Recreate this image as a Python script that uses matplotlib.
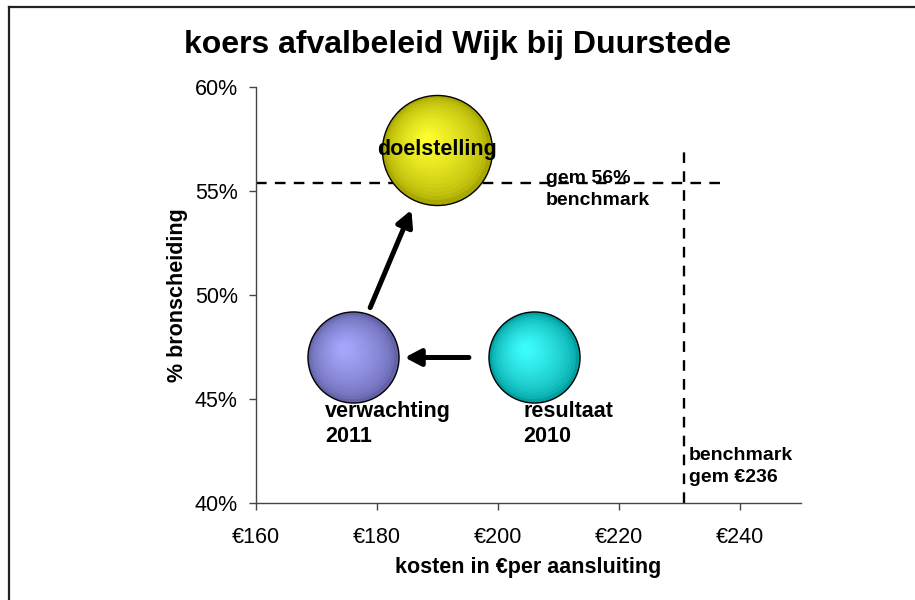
import matplotlib
matplotlib.use("Agg")
import matplotlib.pyplot as plt
import matplotlib.transforms as mtransforms
from matplotlib.lines import Line2D
import numpy as np

plt.rcParams['font.family'] = ['Liberation Sans', 'DejaVu Sans']

# ---- data ----
names = ["doelstelling", "verwachting\n2011", "resultaat\n2010"]
cost = [190, 176, 206]          # € per aansluiting
source_sep = [57.0, 47.0, 47.0]  # % bronscheiding
bubble_size = [1.46, 1.0, 1.0]
colors_dark = ["#a8a800", "#6262a8", "#00a0a0"]
colors_light = ["#ffff30", "#a8a8ff", "#40ffff"]

bench_cost = 230.8
bench_cost_label = "benchmark\ngem €236"
bench_sep = 55.4
bench_sep_label = "gem 56%\nbenchmark"

arrows = [((195.2, 47.0), (184.6, 47.0)), ((178.9, 49.4), (185.7, 54.1))]

xticks = [160, 180, 200, 220, 240]
xtick_labels = ["€160", "€180", "€200", "€220", "€240"]
yticks = [40, 45, 50, 55, 60]
ytick_labels = ["40%", "45%", "50%", "55%", "60%"]

fig = plt.figure(figsize=(9.15, 6.0), dpi=100)
ax = fig.add_axes([0.2795, 0.1617, 0.8751 - 0.2795, 0.8545 - 0.1617])
ax.set_xlim(160, 250)
ax.set_ylim(40, 60)

# figure border (top and left visible)
fig.add_artist(Line2D([8.5 / 915, 8.5 / 915], [0, 1 - 6.5 / 600], transform=fig.transFigure,
                      color="#222222", lw=1.6))
fig.add_artist(Line2D([8.5 / 915, 1], [1 - 6.5 / 600, 1 - 6.5 / 600], transform=fig.transFigure,
                      color="#222222", lw=1.6))

# benchmark lines
ax.plot([160, 237.4], [bench_sep, bench_sep], ls=(0, (4.5, 3.5)), color="black", lw=1.7, zorder=2)
ax.plot([bench_cost, bench_cost], [40, 57.0], ls=(0, (4.5, 3.5)), color="black", lw=1.7, zorder=2)

# bubbles with radial shading
base = 4300
nsteps = 16
for x, y, s, cd, cl in zip(cost, source_sep, bubble_size, colors_dark, colors_light):
    S = base * s
    ax.scatter([x], [y], s=S, color=cd, edgecolor="black", linewidth=1.0, zorder=3)
    d = np.sqrt(S)  # diameter in points
    cdr = np.array(matplotlib.colors.to_rgb(cd))
    clr = np.array(matplotlib.colors.to_rgb(cl))
    for i in range(1, nsteps):
        f = i / nsteps
        dd = d * (1 - f * 0.95)
        off = -0.10 * d * f
        tr = ax.transData + mtransforms.ScaledTranslation(off / 72, -off / 72, fig.dpi_scale_trans)
        c = cdr + (clr - cdr) * f ** 0.6
        ax.scatter([x], [y], s=dd ** 2 * 0.97, color=c, edgecolor="none", zorder=3 + f,
                   transform=tr)

# arrows
for (x0, y0), (x1, y1) in arrows:
    ax.annotate("", xy=(x1, y1), xytext=(x0, y0),
                arrowprops=dict(arrowstyle="-|>,head_length=0.95,head_width=0.5",
                                color="black", lw=3.6, shrinkA=0, shrinkB=0),
                zorder=6)

# labels
ax.text(cost[0], source_sep[0], names[0], ha="center", va="center", fontsize=15.5,
        fontweight="bold", zorder=8)
ax.text(171.4, 43.8, names[1], ha="left", va="center", fontsize=15.5, fontweight="bold",
        linespacing=1.3, zorder=8)
ax.text(204.2, 43.8, names[2], ha="left", va="center", fontsize=15.5, fontweight="bold",
        linespacing=1.3, zorder=8)
ax.text(207.9, 55.08, bench_sep_label, ha="left", va="center", fontsize=14, fontweight="bold",
        linespacing=1.4, zorder=8)
ax.text(231.5, 41.75, bench_cost_label, ha="left", va="center", fontsize=14, fontweight="bold",
        linespacing=1.4, zorder=8)

ax.set_xticks(xticks)
ax.set_xticklabels(xtick_labels, fontsize=15.5)
ax.set_yticks(yticks)
ax.set_yticklabels(ytick_labels, fontsize=15.5)
ax.tick_params(axis="x", direction="out", length=5, width=1, color="#444444", pad=12)
ax.tick_params(axis="y", direction="out", length=5, width=1, color="#444444", pad=8)
for sp in ["top", "right"]:
    ax.spines[sp].set_visible(False)
for sp in ["left", "bottom"]:
    ax.spines[sp].set_color("#444444")
    ax.spines[sp].set_linewidth(1)

ax.set_xlabel("kosten in €per aansluiting", fontsize=15.5, fontweight="bold", labelpad=7)
ax.set_ylabel("% bronscheiding", fontsize=15.5, fontweight="bold", labelpad=5)
fig.text(0.5, 1 - 45 / 600, "koers afvalbeleid Wijk bij Duurstede", ha="center",
         va="center", fontsize=23, fontweight="bold")

fig.savefig("out.png", dpi=100, facecolor="white")
